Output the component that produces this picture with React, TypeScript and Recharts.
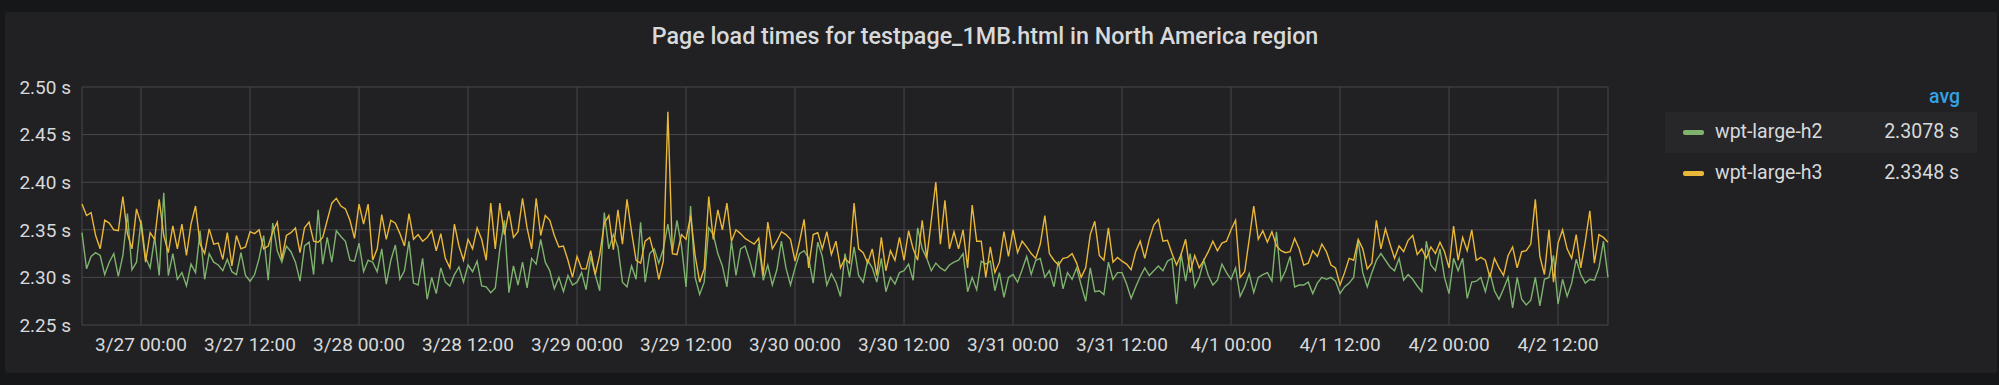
import { LineChart, Line, XAxis, YAxis, CartesianGrid } from 'recharts';

// one sample every 30 minutes, first one at 3/26 17:30
const START = Date.UTC(2020, 2, 26, 17, 30);
const STEP = 30 * 60 * 1000;

const H2_LOAD = [
  2.347, 2.309, 2.322, 2.326, 2.323, 2.303, 2.316, 2.325, 2.301, 2.323,
  2.367, 2.308, 2.316, 2.360, 2.321, 2.310, 2.342, 2.302, 2.389, 2.302,
  2.325, 2.298, 2.305, 2.291, 2.314, 2.305, 2.349, 2.298, 2.325, 2.316,
  2.313, 2.307, 2.319, 2.306, 2.303, 2.326, 2.302, 2.296, 2.303, 2.320,
  2.344, 2.297, 2.357, 2.328, 2.316, 2.333, 2.327, 2.316, 2.296, 2.333,
  2.337, 2.303, 2.371, 2.314, 2.342, 2.316, 2.349,
  2.343, 2.338, 2.318, 2.317, 2.336, 2.306, 2.318, 2.316, 2.306, 2.330,
  2.293, 2.318, 2.334, 2.298, 2.307, 2.338, 2.294, 2.292, 2.320, 2.277,
  2.300, 2.283, 2.310, 2.295, 2.291, 2.303, 2.311, 2.295, 2.313, 2.306,
  2.317, 2.291, 2.290, 2.284, 2.289, 2.330, 2.360, 2.284, 2.312, 2.292,
  2.316, 2.289, 2.320, 2.314, 2.340, 2.316, 2.307, 2.288, 2.300, 2.285,
  2.302, 2.292, 2.295, 2.305, 2.287, 2.322,
  2.303, 2.286, 2.368, 2.330, 2.345, 2.332, 2.295, 2.290, 2.312, 2.298,
  2.358, 2.295, 2.325, 2.330, 2.315, 2.330, 2.356, 2.327, 2.360, 2.333,
  2.290, 2.375, 2.300, 2.282, 2.295, 2.352, 2.345, 2.325, 2.312, 2.290,
  2.338, 2.302, 2.330, 2.333, 2.318, 2.300, 2.335, 2.297, 2.313, 2.292,
  2.308, 2.338, 2.310, 2.292, 2.310, 2.325, 2.328, 2.320, 2.294, 2.337,
  2.322, 2.292, 2.304, 2.295, 2.280, 2.325,
  2.300, 2.332, 2.302, 2.295, 2.318, 2.310, 2.295, 2.320, 2.285, 2.300,
  2.293, 2.305, 2.307, 2.314, 2.297, 2.352, 2.330, 2.320, 2.307, 2.315,
  2.310, 2.307, 2.313, 2.316, 2.318, 2.325, 2.285, 2.300, 2.287, 2.317,
  2.314, 2.317, 2.286, 2.305, 2.279, 2.300, 2.303, 2.295, 2.308, 2.322,
  2.303, 2.318, 2.320, 2.300, 2.307, 2.290, 2.317, 2.288, 2.305, 2.298,
  2.310, 2.292, 2.275, 2.310, 2.285, 2.286,
  2.282, 2.316, 2.298, 2.305, 2.305, 2.293, 2.278, 2.290, 2.301, 2.310,
  2.302, 2.307, 2.312, 2.307, 2.317, 2.320, 2.272, 2.325, 2.296, 2.325,
  2.290, 2.300, 2.318, 2.302, 2.292, 2.297, 2.314, 2.305, 2.298, 2.310,
  2.280, 2.290, 2.304, 2.284, 2.300, 2.303, 2.305, 2.296, 2.348, 2.297,
  2.307, 2.322, 2.290, 2.292, 2.292, 2.295, 2.283, 2.294, 2.300, 2.298,
  2.300, 2.296, 2.283, 2.290, 2.294, 2.300,
  2.339, 2.305, 2.290, 2.305, 2.318, 2.325, 2.318, 2.311, 2.307, 2.320,
  2.297, 2.303, 2.298, 2.291, 2.285, 2.338, 2.313, 2.307, 2.330, 2.300,
  2.283, 2.320, 2.307, 2.320, 2.278, 2.295, 2.296, 2.300, 2.285, 2.305,
  2.286, 2.277, 2.288, 2.300, 2.268, 2.300, 2.277, 2.271, 2.276, 2.300,
  2.270, 2.298, 2.300, 2.323, 2.272, 2.298, 2.280, 2.294, 2.319, 2.303,
  2.294, 2.298, 2.297, 2.310, 2.338, 2.300,
];

const H3_LOAD = [
  2.377, 2.365, 2.368, 2.344, 2.330, 2.360, 2.357, 2.350, 2.349, 2.385,
  2.346, 2.330, 2.372, 2.356, 2.316, 2.347, 2.340, 2.382, 2.344, 2.326,
  2.354, 2.330, 2.356, 2.323, 2.356, 2.375, 2.335, 2.325, 2.351, 2.335,
  2.336, 2.319, 2.347, 2.312, 2.344, 2.330, 2.332, 2.348, 2.346, 2.350,
  2.330, 2.333, 2.348, 2.358, 2.319, 2.344, 2.347, 2.352, 2.326, 2.352,
  2.358, 2.338, 2.337, 2.342, 2.360, 2.378, 2.383,
  2.375, 2.372, 2.360, 2.341, 2.377, 2.356, 2.377, 2.318, 2.330, 2.366,
  2.340, 2.360, 2.357, 2.346, 2.333, 2.367, 2.340, 2.345, 2.338, 2.342,
  2.349, 2.328, 2.346, 2.320, 2.310, 2.356, 2.333, 2.318, 2.340, 2.330,
  2.352, 2.340, 2.318, 2.378, 2.330, 2.378, 2.345, 2.370, 2.342, 2.348,
  2.383, 2.352, 2.330, 2.383, 2.344, 2.365, 2.360, 2.344, 2.332, 2.333,
  2.318, 2.300, 2.322, 2.309, 2.309, 2.328,
  2.303, 2.324, 2.357, 2.365, 2.329, 2.371, 2.335, 2.382, 2.348, 2.318,
  2.315, 2.338, 2.342, 2.324, 2.298, 2.317, 2.474, 2.325, 2.324, 2.345,
  2.340, 2.365, 2.323, 2.295, 2.309, 2.385, 2.340, 2.371, 2.350, 2.378,
  2.338, 2.350, 2.346, 2.341, 2.338, 2.335, 2.341, 2.302, 2.358, 2.330,
  2.338, 2.348, 2.345, 2.340, 2.317, 2.338, 2.361, 2.310, 2.345, 2.347,
  2.330, 2.348, 2.324, 2.338, 2.310, 2.320,
  2.315, 2.378, 2.330, 2.326, 2.315, 2.330, 2.302, 2.342, 2.307, 2.328,
  2.318, 2.342, 2.318, 2.349, 2.330, 2.318, 2.360, 2.320, 2.360, 2.400,
  2.335, 2.381, 2.330, 2.348, 2.330, 2.350, 2.310, 2.376, 2.338, 2.338,
  2.300, 2.332, 2.305, 2.316, 2.348, 2.322, 2.350, 2.326, 2.338, 2.332,
  2.325, 2.320, 2.335, 2.365, 2.325, 2.318, 2.313, 2.320, 2.321, 2.325,
  2.315, 2.300, 2.310, 2.345, 2.359, 2.323,
  2.318, 2.352, 2.316, 2.321, 2.317, 2.314, 2.308, 2.327, 2.338, 2.320,
  2.340, 2.355, 2.361, 2.338, 2.339, 2.325, 2.313, 2.324, 2.340, 2.305,
  2.323, 2.310, 2.318, 2.327, 2.338, 2.328, 2.336, 2.338, 2.350, 2.360,
  2.300, 2.306, 2.340, 2.375, 2.340, 2.349, 2.337, 2.348, 2.333, 2.328,
  2.326, 2.327, 2.341, 2.330, 2.313, 2.315, 2.328, 2.322, 2.335, 2.327,
  2.313, 2.310, 2.292, 2.305, 2.320, 2.318,
  2.340, 2.330, 2.309, 2.315, 2.360, 2.330, 2.351, 2.335, 2.320, 2.333,
  2.327, 2.339, 2.344, 2.324, 2.330, 2.320, 2.332, 2.325, 2.337, 2.327,
  2.310, 2.354, 2.318, 2.342, 2.328, 2.350, 2.318, 2.321, 2.318, 2.300,
  2.320, 2.310, 2.302, 2.323, 2.332, 2.310, 2.327, 2.328, 2.335, 2.382,
  2.322, 2.303, 2.350, 2.295, 2.336, 2.350, 2.330, 2.320, 2.345, 2.310,
  2.338, 2.370, 2.315, 2.345, 2.342, 2.337,
];

const SERIES_NAMES = ['wpt-large-h2', 'wpt-large-h3'];
const SERIES_KEYS = ['h2', 'h3'];
const SERIES_COLORS = ['#7eb26d', '#eab839'];
const AVG_LABELS = ['2.3078 s', '2.3348 s'];

const Y_TICKS = [2.25, 2.3, 2.35, 2.4, 2.45, 2.5];
const X_TICKS = Array.from({ length: 14 }, (_, i) => Date.UTC(2020, 2, 27) + i * 12 * 3600 * 1000);

const TEXT = '#d8d9da';

const pad = (n: number) => String(n).padStart(2, '0');
const formatTime = (v: number) => {
  const d = new Date(v);
  return `${d.getUTCMonth() + 1}/${d.getUTCDate()} ${pad(d.getUTCHours())}:${pad(d.getUTCMinutes())}`;
};

const data = H2_LOAD.map((v, i) => ({ t: START + i * STEP, h2: v, h3: H3_LOAD[i] }));

export default function App() {
  return (
    <div style={{
      position: 'absolute', left: 0, top: 0, width: 1999, height: 385,
      background: '#161719', fontFamily: 'Roboto, sans-serif', overflow: 'hidden',
    }}>
      <div style={{ position: 'absolute', left: 5, top: 12, width: 1992, height: 361, background: '#212124', borderRadius: 3 }} />

      <div style={{
        position: 'absolute', left: 0, top: 23, width: 1970, textAlign: 'center',
        color: TEXT, fontSize: 23.3, fontWeight: 500, lineHeight: '26px',
      }}>
        Page load times for testpage_1MB.html in North America region
      </div>

      <div style={{ position: 'absolute', left: 0, top: 0 }}>
        <LineChart width={1660} height={385} data={data} margin={{ top: 87, right: 52, bottom: 30, left: 0 }}>
          <CartesianGrid stroke="#48484c" strokeWidth={1} />
          <XAxis
            dataKey="t"
            type="number"
            domain={[START, START + (H2_LOAD.length - 1) * STEP]}
            ticks={X_TICKS}
            interval={0}
            tickFormatter={formatTime}
            axisLine={false}
            tickLine={false}
            tickSize={0}
            tickMargin={13}
            height={30}
            tick={{ fill: TEXT, fontSize: 19 }}
          />
          <YAxis
            domain={[2.25, 2.5]}
            ticks={Y_TICKS}
            interval={0}
            tickFormatter={(v: number) => `${v.toFixed(2)} s`}
            axisLine={false}
            tickLine={false}
            tickSize={0}
            tickMargin={11}
            width={82}
            tick={{ fill: TEXT, fontSize: 19 }}
          />
          {SERIES_KEYS.map((k, i) => (
            <Line
              key={k}
              type="linear"
              dataKey={k}
              stroke={SERIES_COLORS[i]}
              strokeWidth={1.4}
              dot={false}
              isAnimationActive={false}
            />
          ))}
        </LineChart>
      </div>

      {/* legend table */}
      <div style={{
        position: 'absolute', right: 39, top: 85, lineHeight: '24px',
        color: '#33a2e5', fontSize: 19.5, fontWeight: 500,
      }}>
        avg
      </div>
      {SERIES_NAMES.map((name, i) => (
        <div key={name} style={{
          position: 'absolute', left: 1665, top: 112 + i * 41, width: 312, height: 41,
          background: i === 0 ? '#27272a' : 'transparent',
        }}>
          <div style={{
            position: 'absolute', left: 18, top: 18, width: 21, height: 5,
            borderRadius: 2, background: SERIES_COLORS[i],
          }} />
          <div style={{
            position: 'absolute', left: 50, top: 8, lineHeight: '24px',
            color: TEXT, fontSize: 19.5,
          }}>
            {name}
          </div>
          <div style={{
            position: 'absolute', right: 18, top: 8, lineHeight: '24px',
            color: TEXT, fontSize: 19.5,
          }}>
            {AVG_LABELS[i]}
          </div>
        </div>
      ))}
    </div>
  );
}
